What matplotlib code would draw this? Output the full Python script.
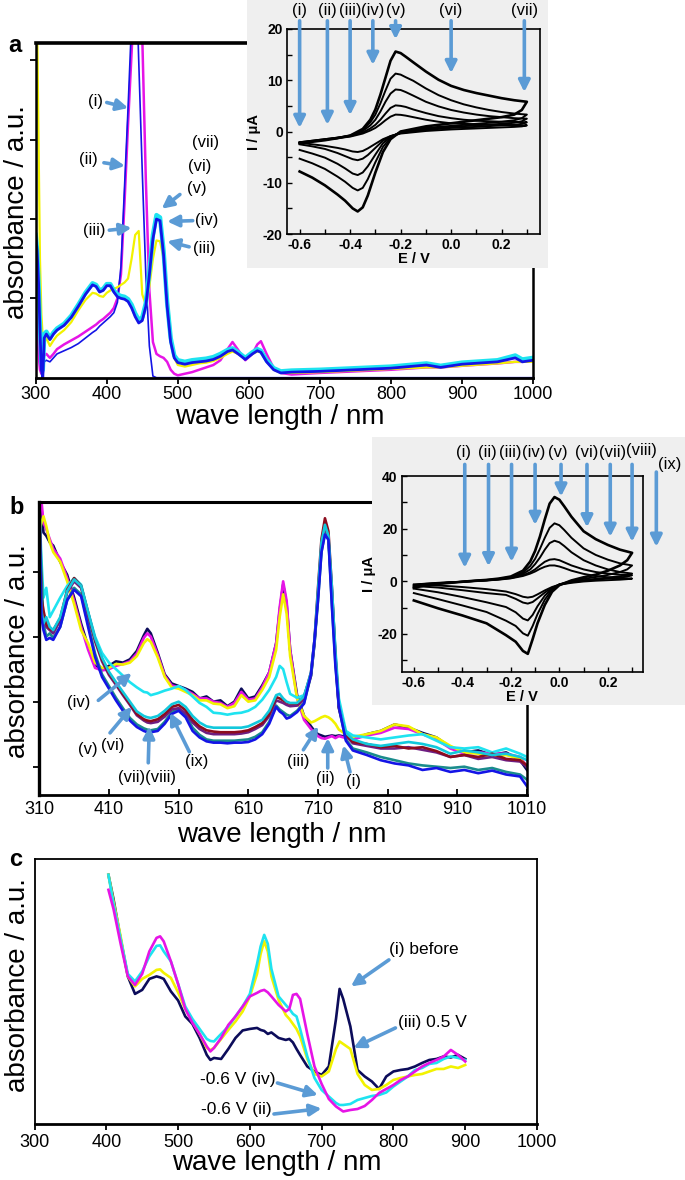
import matplotlib
matplotlib.use('Agg')
import matplotlib.pyplot as plt
from matplotlib.ticker import MultipleLocator

plt.rcParams['font.family'] = ['Liberation Sans', 'DejaVu Sans']
plt.rcParams['axes.unicode_minus'] = False

# ---------------- DATA ----------------
# Panel a spectra
wl_a = [300, 302, 304, 306, 308, 310, 312, 315, 320, 325,
        330, 340, 350, 360, 370, 380, 385, 390, 395, 400,
        405, 410, 415, 420, 425, 430, 435, 440, 445, 450,
        455, 460, 465, 470, 475, 480, 485, 490, 495, 500,
        510, 520, 530, 540, 550, 560, 570, 577, 585, 595,
        605, 612, 617, 625, 635, 645, 660, 700, 750, 800,
        850, 870, 900, 950, 975, 985, 1000]
a_magenta = [1.0, 0.6, 0.3, 0.1, 0.05, 0.2, 0.28, 0.3, 0.25, 0.3,
             0.36, 0.42, 0.47, 0.52, 0.58, 0.64, 0.67, 0.71, 0.74, 0.78,
             0.82, 0.88, 1.0, 1.3, 2.2, 3.2, 4.1, 5.0, 5.5, 4.3,
             2.5, 1.1, 0.45, 0.3, 0.27, 0.25, 0.2, 0.1, 0.05, 0.03,
             0.05, 0.07, 0.1, 0.13, 0.16, 0.22, 0.36, 0.45, 0.35, 0.22,
             0.3, 0.42, 0.46, 0.3, 0.12, 0.06, 0.04, 0.06, 0.08, 0.1,
             0.13, 0.13, 0.15, 0.18, 0.2, 0.2, 0.21]
a_blue_thin = [1.8, 1.5, 1.0, 0.5, 0.1, 0.0, 0.2, 0.22, 0.2, 0.25,
               0.3, 0.34, 0.38, 0.43, 0.5, 0.57, 0.6, 0.65, 0.69, 0.73,
               0.77, 0.82, 0.95, 1.4, 2.4, 3.4, 4.5, 5.5, 4.0, 2.6,
               1.3, 0.4, 0.02, 0.0, 0.0, 0.0, 0.0, 0.0, 0.0, 0.0,
               0.0, 0.0, 0.0, 0.0, 0.0, 0.0, 0.0, 0.0, 0.0, 0.0,
               0.0, 0.0, 0.0, 0.0, 0.0, 0.0, 0.0, 0.0, 0.0, 0.0,
               0.0, 0.0, 0.0, 0.0, 0.0, 0.0, 0.0]
a_yellow = [4.5, 4.5, 3.0, 1.5, 0.8, 0.5, 0.45, 0.5, 0.4, 0.47,
            0.53, 0.6, 0.7, 0.85, 0.98, 1.07, 1.06, 1.03, 1.02, 1.07,
            1.1, 1.12, 1.14, 1.17, 1.2, 1.25, 1.5, 1.8, 1.85, 1.05,
            0.92, 1.15, 1.5, 1.73, 1.72, 1.5, 1.05, 0.55, 0.25, 0.16,
            0.14, 0.16, 0.18, 0.19, 0.21, 0.25, 0.3, 0.33, 0.3, 0.24,
            0.3, 0.33, 0.32, 0.22, 0.1, 0.06, 0.06, 0.07, 0.09, 0.11,
            0.13, 0.13, 0.15, 0.18, 0.2, 0.2, 0.2]
a_cyan = [1.8, 1.6, 1.2, 0.65, 0.2, 0.1, 0.55, 0.58, 0.5, 0.57,
          0.62, 0.68, 0.78, 0.92, 1.07, 1.19, 1.17, 1.1, 1.12, 1.18,
          1.18, 1.1, 1.05, 1.03, 1.02, 0.99, 0.92, 0.81, 0.73, 0.76,
          0.94, 1.34, 1.8, 2.05, 2.02, 1.6, 0.95, 0.5, 0.28, 0.22,
          0.2, 0.22, 0.23, 0.24, 0.26, 0.3, 0.35, 0.37, 0.32, 0.25,
          0.32, 0.36, 0.34, 0.22, 0.12, 0.08, 0.09, 0.1, 0.12, 0.14,
          0.18, 0.15, 0.19, 0.22, 0.28, 0.23, 0.25]
a_blue = [1.8, 1.6, 1.2, 0.6, 0.1, 0.0, 0.5, 0.55, 0.48, 0.55,
          0.6, 0.66, 0.76, 0.9, 1.05, 1.17, 1.15, 1.08, 1.1, 1.16,
          1.16, 1.08, 1.02, 1.0, 0.99, 0.96, 0.88, 0.77, 0.69, 0.72,
          0.9, 1.3, 1.75, 2.0, 1.98, 1.55, 0.9, 0.45, 0.25, 0.19,
          0.17, 0.19, 0.2, 0.21, 0.23, 0.27, 0.33, 0.35, 0.3, 0.23,
          0.3, 0.34, 0.32, 0.2, 0.1, 0.06, 0.07, 0.08, 0.1, 0.12,
          0.16, 0.13, 0.17, 0.2, 0.25, 0.2, 0.22]

# Panel a inset CV
cva_E_fwd = [-0.6, -0.55, -0.5, -0.45, -0.4, -0.35, -0.32, -0.3, -0.28, -0.26, -0.24, -0.22,
             -0.2, -0.18, -0.15, -0.1, -0.05, 0.0, 0.05, 0.1, 0.15, 0.2, 0.25, 0.3]
cva_E_bwd = [0.3, 0.28, 0.25, 0.2, 0.1, 0.0, -0.1, -0.2, -0.24, -0.27,
             -0.3, -0.33, -0.35, -0.37, -0.39, -0.42, -0.45, -0.5, -0.55, -0.6]
cva_fwd = [
    [-2.3, -2.0, -1.7, -1.3, -0.8, 0.5, 2.3, 4.3, 7.2, 10.5, 13.8, 15.6, 15.3, 14.6, 13.5, 11.7, 10.1, 8.9, 8.1, 7.5, 7.0, 6.5, 6.1, 5.8],
    [-2.2, -1.9, -1.6, -1.3, -0.8, 0.3, 1.8, 3.3, 5.5, 8.0, 10.3, 11.3, 11.1, 10.6, 9.9, 8.4, 7.1, 6.1, 5.3, 4.7, 4.2, 3.8, 3.5, 3.3],
    [-2.1, -1.8, -1.5, -1.2, -0.8, 0.1, 1.2, 2.3, 3.9, 5.8, 7.4, 8.2, 8.1, 7.7, 7.0, 5.8, 4.9, 4.2, 3.7, 3.3, 3.0, 2.8, 2.6, 2.5],
    [-2.1, -1.8, -1.5, -1.2, -0.9, -0.2, 0.6, 1.3, 2.3, 3.5, 4.6, 5.1, 5.0, 4.8, 4.3, 3.6, 3.0, 2.6, 2.3, 2.1, 2.0, 1.9, 1.9, 1.8],
    [-2.2, -1.9, -1.6, -1.3, -1.0, -0.4, 0.2, 0.7, 1.4, 2.2, 2.9, 3.3, 3.25, 3.1, 2.8, 2.3, 1.9, 1.6, 1.5, 1.4, 1.3, 1.3, 1.25, 1.2],
]
cva_bwd = [
    [5.8, 4.2, 3.3, 2.8, 2.2, 1.6, 1.0, 0.0, -1.5, -4.0, -8.0, -12.5, -14.8, -15.6, -15.0, -13.5, -12.3, -10.5, -9.0, -7.8],
    [3.3, 2.6, 2.2, 1.9, 1.5, 1.1, 0.7, -0.1, -1.2, -3.0, -6.0, -9.3, -11.0, -11.5, -11.0, -9.8, -8.8, -7.3, -6.2, -5.3],
    [2.5, 2.0, 1.7, 1.5, 1.2, 0.9, 0.5, -0.2, -1.0, -2.3, -4.5, -6.8, -8.0, -8.5, -8.2, -7.2, -6.3, -5.1, -4.3, -3.6],
    [1.8, 1.5, 1.3, 1.2, 0.9, 0.7, 0.3, -0.3, -0.9, -1.8, -3.2, -4.6, -5.3, -5.6, -5.4, -4.8, -4.2, -3.4, -2.9, -2.5],
    [1.2, 1.0, 0.9, 0.8, 0.6, 0.4, 0.1, -0.4, -0.9, -1.5, -2.4, -3.3, -3.8, -4.0, -3.9, -3.5, -3.2, -2.8, -2.5, -2.2],
]
cva_labels = ['(i)', '(ii)', '(iii)', '(iv)', '(v)', '(vi)', '(vii)']
cva_arrow_E = [-0.6, -0.49, -0.40, -0.31, -0.22, 0.0, 0.29]
cva_arrow_tip = [0.7, 1.3, 3.2, 13.0, 18.0, 11.4, 7.7]

# Panel b spectra
wl_b = [310, 313, 316, 320, 325, 330, 340, 350, 360, 370,
        380, 390, 400, 410, 420, 430, 440, 450, 460, 465,
        470, 480, 490, 500, 510, 520, 530, 540, 550, 560,
        570, 580, 590, 600, 610, 620, 630, 640, 650, 655,
        660, 665, 670, 680, 690, 700, 705, 710, 715, 720,
        725, 730, 735, 740, 750, 760, 780, 800, 820, 840,
        860, 880, 900, 920, 940, 960, 980, 1000, 1010]
b_navy = [5.2, 5.0, 4.6, 4.55, 4.45, 4.4, 4.15, 3.95, 3.6, 3.2,
          2.85, 2.55, 2.5, 2.55, 2.62, 2.6, 2.65, 2.78, 3.02, 3.12,
          3.05, 2.75, 2.42, 2.28, 2.24, 2.2, 2.15, 2.05, 2.08, 2.0,
          2.02, 1.93, 2.0, 2.2, 2.05, 2.08, 2.25, 2.45, 2.9, 3.4,
          3.8, 3.5, 2.8, 2.1, 1.78, 1.62, 1.55, 1.5, 1.48, 1.46,
          1.47, 1.48, 1.47, 1.48, 1.46, 1.42, 1.5, 1.55, 1.65, 1.6,
          1.52, 1.45, 1.3, 1.22, 1.25, 1.18, 1.22, 1.1, 0.95]
b_magenta = [5.2, 5.1, 4.75, 4.65, 4.5, 4.35, 4.2, 3.9, 3.55, 3.15,
             2.8, 2.52, 2.48, 2.5, 2.55, 2.58, 2.62, 2.74, 2.98, 3.05,
             3.0, 2.72, 2.4, 2.25, 2.22, 2.18, 2.12, 2.05, 2.05, 2.0,
             1.98, 1.92, 1.98, 2.15, 2.03, 2.05, 2.22, 2.45, 2.9, 3.45,
             3.85, 3.55, 2.8, 2.05, 1.72, 1.58, 1.52, 1.47, 1.44, 1.43,
             1.45, 1.47, 1.44, 1.47, 1.44, 1.42, 1.48, 1.52, 1.6, 1.58,
             1.5, 1.42, 1.28, 1.2, 1.22, 1.2, 1.2, 1.15, 1.0]
b_yellow = [4.6, 4.75, 4.85, 4.7, 4.45, 4.3, 4.15, 3.85, 3.5, 3.1,
            2.9, 2.6, 2.52, 2.52, 2.58, 2.57, 2.6, 2.7, 2.9, 2.96,
            2.92, 2.68, 2.38, 2.22, 2.2, 2.15, 2.1, 2.02, 2.02, 1.97,
            1.96, 1.9, 1.93, 2.1, 2.0, 2.02, 2.18, 2.38, 2.8, 3.3,
            3.65, 3.35, 2.7, 2.05, 1.78, 1.68, 1.7, 1.73, 1.76, 1.78,
            1.76, 1.72, 1.66, 1.57, 1.5, 1.46, 1.5, 1.55, 1.65, 1.62,
            1.5, 1.45, 1.32, 1.22, 1.2, 1.15, 1.18, 1.12, 1.0]
b_lcyan = [5.0, 4.2, 3.6, 3.75, 3.3, 3.4, 3.6, 3.78, 3.9, 3.8,
           3.38, 3.0, 2.75, 2.6, 2.5, 2.4, 2.3, 2.22, 2.15, 2.14,
           2.1, 2.13, 2.17, 2.2, 2.24, 2.18, 2.08, 1.98, 1.92, 1.83,
           1.82, 1.8, 1.82, 1.83, 1.86, 1.92, 2.03, 2.18, 2.38, 2.55,
           2.5, 2.3, 2.12, 2.06, 2.1, 2.4, 2.9, 3.65, 4.35, 4.64,
           4.48, 3.7, 2.8, 2.05, 1.55, 1.48, 1.45, 1.42, 1.45, 1.48,
           1.5, 1.4, 1.3, 1.28, 1.3, 1.22, 1.28, 1.2, 1.15]
b_cyan = [5.0, 3.4, 3.2, 3.3, 3.15, 3.1, 3.3, 3.7, 3.88, 3.78,
          3.38, 2.98, 2.68, 2.46, 2.3, 2.15, 2.0, 1.85, 1.78, 1.76,
          1.75, 1.78, 1.86, 1.96, 2.0, 1.92, 1.78, 1.68, 1.62, 1.6,
          1.6, 1.6, 1.6, 1.6, 1.62, 1.67, 1.72, 1.86, 2.1, 2.12,
          2.05, 2.0, 1.98, 1.98, 2.08, 2.45, 2.95, 3.7, 4.45, 4.72,
          4.55, 3.75, 2.75, 1.95, 1.52, 1.42, 1.35, 1.32, 1.35, 1.38,
          1.35, 1.3, 1.2, 1.25, 1.22, 1.18, 1.2, 1.15, 1.1]
b_purple = [5.0, 3.5, 3.3, 3.15, 3.1, 3.05, 3.25, 3.68, 3.85, 3.75,
            3.33, 2.93, 2.62, 2.41, 2.26, 2.1, 1.95, 1.79, 1.71, 1.68,
            1.67, 1.69, 1.77, 1.88, 1.9, 1.82, 1.68, 1.58, 1.52, 1.5,
            1.5, 1.5, 1.5, 1.51, 1.53, 1.58, 1.64, 1.78, 2.02, 2.0,
            1.98, 1.95, 1.93, 1.94, 2.03, 2.4, 2.9, 3.65, 4.4, 4.7,
            4.52, 3.68, 2.68, 1.9, 1.48, 1.36, 1.32, 1.28, 1.28, 1.3,
            1.26, 1.22, 1.15, 1.18, 1.12, 1.15, 1.1, 1.08, 1.0]
b_darkred = [5.0, 3.6, 3.4, 3.2, 3.12, 3.1, 3.28, 3.72, 3.9, 3.78,
             3.37, 2.96, 2.65, 2.44, 2.28, 2.12, 1.97, 1.81, 1.73, 1.71,
             1.7, 1.73, 1.81, 1.92, 1.95, 1.87, 1.72, 1.62, 1.56, 1.54,
             1.53, 1.53, 1.53, 1.54, 1.56, 1.61, 1.67, 1.81, 2.07, 2.05,
             2.02, 1.99, 1.97, 1.97, 2.07, 2.45, 2.95, 3.75, 4.5, 4.82,
             4.62, 3.75, 2.72, 1.92, 1.5, 1.38, 1.35, 1.3, 1.32, 1.28,
             1.3, 1.24, 1.15, 1.18, 1.15, 1.2, 1.12, 1.1, 1.02]
b_teal = [5.0, 4.0, 3.2, 3.0, 3.05, 2.98, 3.15, 3.56, 3.75, 3.65,
          3.2, 2.74, 2.42, 2.24, 2.06, 1.9, 1.75, 1.65, 1.59, 1.57,
          1.56, 1.58, 1.69, 1.84, 1.89, 1.8, 1.6, 1.49, 1.42, 1.4,
          1.4, 1.4, 1.4, 1.41, 1.42, 1.46, 1.53, 1.69, 1.94, 1.88,
          1.84, 1.8, 1.78, 1.86, 1.98, 2.4, 2.9, 3.55, 4.3, 4.6,
          4.5, 3.5, 2.6, 1.9, 1.42, 1.28, 1.22, 1.15, 1.1, 1.05,
          1.02, 1.0, 0.98, 1.0, 0.95, 0.98, 0.92, 0.88, 0.8]
b_blue = [5.0, 3.3, 3.1, 2.95, 2.98, 2.95, 3.15, 3.56, 3.72, 3.62,
          3.15, 2.69, 2.38, 2.2, 2.02, 1.86, 1.71, 1.61, 1.55, 1.53,
          1.53, 1.55, 1.66, 1.81, 1.86, 1.76, 1.55, 1.45, 1.39, 1.37,
          1.37, 1.36, 1.37, 1.37, 1.38, 1.42, 1.5, 1.66, 1.92, 1.85,
          1.81, 1.74, 1.76, 1.84, 1.97, 2.43, 2.95, 3.56, 4.3, 4.57,
          4.49, 3.46, 2.55, 1.92, 1.4, 1.25, 1.18, 1.1, 1.05, 1.02,
          0.95, 0.98, 0.92, 0.95, 0.9, 0.94, 0.88, 0.85, 0.7]

# Panel b inset CV
cvb_E_fwd = [-0.6, -0.55, -0.5, -0.45, -0.4, -0.35, -0.3, -0.25, -0.2, -0.15, -0.12, -0.1,
             -0.08, -0.06, -0.04, -0.02, 0.0, 0.02, 0.05, 0.1, 0.15, 0.2, 0.25, 0.3]
cvb_E_bwd = [0.3, 0.28, 0.25, 0.2, 0.15, 0.1, 0.05, 0.0, -0.03, -0.06,
             -0.09, -0.11, -0.13, -0.15, -0.18, -0.22, -0.3, -0.4, -0.5, -0.6]
cvb_fwd = [
    [-2.5, -1.5, -1.0, -0.6, -0.2, 0.2, 0.5, 1.0, 1.8, 4.0, 7.5, 11.5, 17.0, 23.5, 29.5, 32.0, 31.0, 28.5, 24.5, 19.0, 16.0, 13.8, 12.0, 10.8],
    [-2.2, -1.3, -0.9, -0.5, -0.2, 0.2, 0.5, 0.9, 1.6, 3.3, 5.8, 8.5, 12.3, 16.5, 20.3, 22.0, 21.3, 19.5, 16.5, 12.5, 10.0, 8.2, 6.8, 6.0],
    [-1.8, -1.1, -0.8, -0.5, -0.2, 0.1, 0.4, 0.8, 1.4, 2.8, 4.5, 6.5, 9.0, 12.0, 14.5, 15.4, 14.8, 13.4, 11.0, 8.0, 6.0, 4.5, 3.5, 2.9],
    [-1.5, -1.0, -0.7, -0.4, -0.2, 0.1, 0.3, 0.7, 1.2, 2.3, 3.4, 4.5, 6.0, 7.4, 8.2, 8.4, 8.0, 7.2, 6.0, 4.5, 3.5, 2.9, 2.5, 2.3],
    [-1.3, -0.9, -0.6, -0.4, -0.2, 0.0, 0.3, 0.6, 1.1, 2.0, 2.9, 3.7, 4.7, 5.5, 6.0, 6.0, 5.6, 5.0, 4.0, 2.8, 2.0, 1.5, 1.2, 1.0],
]
cvb_bwd = [
    [10.8, 8.0, 6.0, 4.0, 2.5, 1.5, 0.3, -1.5, -4.0, -9.0, -16.0, -22.0, -27.6, -26.5, -23.0, -20.5, -16.0, -13.0, -10.3, -7.3],
    [6.0, 4.5, 3.5, 2.4, 1.6, 0.9, 0.1, -1.2, -3.2, -7.0, -12.5, -17.0, -20.7, -19.8, -17.0, -15.0, -11.7, -9.2, -6.8, -4.5],
    [2.9, 2.3, 1.9, 1.4, 0.9, 0.4, -0.2, -1.2, -2.8, -5.5, -9.5, -12.8, -14.9, -14.2, -11.8, -9.8, -8.0, -6.0, -4.2, -2.8],
    [2.3, 1.8, 1.4, 1.0, 0.6, 0.2, -0.4, -1.3, -2.5, -4.3, -6.5, -7.9, -8.5, -8.1, -6.7, -5.2, -4.5, -3.4, -2.4, -1.8],
    [1.0, 0.8, 0.6, 0.4, 0.2, -0.1, -0.6, -1.3, -2.2, -3.5, -5.0, -5.9, -6.2, -5.9, -4.9, -3.9, -3.0, -2.2, -1.6, -1.3],
]
cvb_labels = ['(i)', '(ii)', '(iii)', '(iv)', '(v)', '(vi)', '(vii)', '(viii)', '(ix)']
cvb_label_E = [-0.396, -0.298, -0.203, -0.104, -0.005, 0.114, 0.221, 0.34, 0.456]
cvb_label_I = [48.9, 48.9, 48.9, 48.9, 48.9, 48.9, 48.9, 49.8, 44.4]
cvb_arrow_E = [-0.39, -0.292, -0.197, -0.10, 0.007, 0.114, 0.21, 0.30, 0.40]
cvb_arrow_tail = [44.4, 44.4, 44.4, 44.4, 44.4, 44.4, 44.4, 44.4, 41.5]
cvb_arrow_tip = [5.1, 5.7, 7.4, 21.4, 32.2, 20.5, 16.9, 15.0, 13.1]

# Panel c spectra
wl_c = [403, 410, 420, 430, 440, 450, 460, 470, 475, 480,
        490, 500, 510, 520, 530, 540, 545, 550, 560, 570,
        580, 590, 600, 610, 615, 620, 625, 630, 640, 650,
        655, 660, 665, 670, 680, 690, 700, 710, 720, 725,
        730, 740, 750, 760, 770, 780, 790, 800, 810, 820,
        830, 840, 850, 860, 870, 880, 890, 900]
c_navy = [4.98, 4.5, 3.7, 2.95, 2.6, 2.68, 2.9, 2.95, 2.93, 2.9,
          2.65, 2.47, 2.15, 2.0, 1.72, 1.38, 1.28, 1.32, 1.3, 1.5,
          1.72, 1.87, 1.9, 1.92, 1.88, 1.86, 1.8, 1.83, 1.72, 1.68,
          1.7, 1.63, 1.5, 1.38, 1.15, 1.05, 0.98, 1.15, 2.1, 2.7,
          2.5, 1.95, 1.08, 0.95, 0.85, 0.7, 0.95, 1.05, 1.08, 1.1,
          1.15, 1.22, 1.28, 1.3, 1.35, 1.33, 1.38, 1.3]
c_magenta = [4.68, 4.3, 3.6, 2.95, 2.78, 3.0, 3.45, 3.72, 3.75, 3.65,
             3.25, 2.8, 2.3, 2.02, 1.8, 1.55, 1.45, 1.52, 1.72, 1.98,
             2.15, 2.35, 2.55, 2.62, 2.66, 2.68, 2.63, 2.55, 2.38, 2.25,
             2.3, 2.58, 2.6, 2.5, 1.8, 1.15, 0.8, 0.5, 0.35, 0.3,
             0.25, 0.28, 0.3, 0.36, 0.48, 0.62, 0.7, 0.78, 0.88, 0.95,
             1.05, 1.15, 1.22, 1.28, 1.35, 1.48, 1.38, 1.25]
c_cyan = [4.98, 4.4, 3.7, 3.0, 2.85, 3.05, 3.35, 3.56, 3.57, 3.45,
          3.25, 2.8, 2.35, 2.1, 1.9, 1.7, 1.66, 1.65, 1.8, 1.95,
          2.15, 2.35, 2.6, 3.2, 3.55, 3.78, 3.6, 3.1, 2.55, 2.38,
          2.3, 2.2, 2.15, 1.9, 1.35, 0.92, 0.68, 0.55, 0.42, 0.38,
          0.38, 0.4, 0.48, 0.52, 0.56, 0.58, 0.63, 0.75, 0.85, 0.95,
          1.08, 1.12, 1.2, 1.22, 1.3, 1.35, 1.32, 1.28]
c_yellow = [4.98, 4.45, 3.75, 2.95, 2.75, 2.9, 2.98, 3.08, 3.09, 3.02,
            2.92, 2.63, 2.3, 2.05, 1.8, 1.52, 1.48, 1.52, 1.7, 1.88,
            2.05, 2.25, 2.55, 3.0, 3.4, 3.65, 3.45, 2.95, 2.48, 2.18,
            2.1, 2.0, 1.9, 1.75, 1.3, 1.0, 0.95, 1.05, 1.5, 1.65,
            1.6, 1.5, 1.0, 0.78, 0.68, 0.7, 0.78, 0.88, 0.92, 0.95,
            0.98, 1.0, 1.05, 1.1, 1.1, 1.15, 1.12, 1.18]

xticks_a = [300, 400, 500, 600, 700, 800, 900, 1000]
xticks_b = [310, 410, 510, 610, 710, 810, 910, 1010]
xticks_c = [300, 400, 500, 600, 700, 800, 900, 1000]

# ---------------- STYLE ----------------
W, H = 685, 1180
ARROW = '#5b9bd5'
GREY = '#efefef'
YEL = '#f2f200'
MAG = '#e614e6'
CYN = '#1ee3f0'
BLU = '#1414e6'
NAVY = '#0c0c5a'
DRED = '#8c0c1e'
PURP = '#6e1e82'
TEAL = '#1a8c8c'
CYN2 = '#12c8dc'

fig = plt.figure(figsize=(W / 100, H / 100), dpi=100)
fig.patch.set_facecolor('white')


def frac(l, t, r, b):
    return [l / W, 1 - b / H, (r - l) / W, (b - t) / H]


def arrow(ax, tail, tip, lw=2.6, ms=17):
    ax.annotate('', xy=tip, xytext=tail, xycoords='data', textcoords='data',
                arrowprops=dict(arrowstyle='-|>', color=ARROW, lw=lw, mutation_scale=ms,
                                shrinkA=0, shrinkB=0),
                annotation_clip=False)


def style_main(ax, lw_top=2.2, xdir='out'):
    ax.spines['top'].set_linewidth(lw_top)
    ax.spines['bottom'].set_linewidth(2.0)
    ax.spines['left'].set_linewidth(1.8)
    ax.spines['right'].set_linewidth(1.8)
    ax.tick_params(axis='y', direction='out', length=4, width=1.3)
    ax.tick_params(axis='x', direction=xdir, length=4, width=1.3, labelsize=13,
                   pad=2 if xdir == 'out' else 4)


def style_inset(ax):
    for s in ax.spines.values():
        s.set_linewidth(1.2)
    ax.set_facecolor(GREY)
    ax.tick_params(axis='both', which='both', direction='in', length=3.5, width=1.0, pad=3,
                   top=False, right=False)


def bg_box(l, t, r, b):
    bg = fig.add_axes(frac(l, t, r, b))
    bg.set_facecolor(GREY)
    bg.set_xticks([])
    bg.set_yticks([])
    for s in bg.spines.values():
        s.set_visible(False)
    bg.set_zorder(2)
    return bg


def draw_cv(ax, Ef, Eb, fwd, bwd):
    for k, (f, b) in enumerate(zip(fwd, bwd)):
        ax.plot(Ef + Eb, f + b, color='black', lw=1.9 if k == 0 else 1.4, zorder=3)


XL = 20

# ---------------- PANEL A ----------------
ax_a = fig.add_axes(frac(35.7, 43, 533, 377.7))
ax_a.set_zorder(1)
ax_a.plot(wl_a, a_magenta, color=MAG, lw=1.8)
ax_a.plot(wl_a, a_blue_thin, color=BLU, lw=1.2)
ax_a.plot(wl_a, a_yellow, color=YEL, lw=1.6)
ax_a.plot(wl_a, a_cyan, color=CYN, lw=3.2)
ax_a.plot(wl_a, a_blue, color=BLU, lw=2.0)
ax_a.set_xlim(300, 1000)
ax_a.set_ylim(0, 4.22)
ax_a.set_xticks(xticks_a)
ax_a.set_yticks([1, 2, 3, 4])
ax_a.set_yticklabels([])
style_main(ax_a, lw_top=2.6)

txt_kw = dict(fontsize=12, ha='center', va='center')
ax_a.text(383.5, 3.48, '(i)', **txt_kw)
arrow(ax_a, (400, 3.47), (430.3, 3.40))
ax_a.text(374, 2.75, '(ii)', **txt_kw)
arrow(ax_a, (396, 2.71), (425.7, 2.67))
ax_a.text(382, 1.86, '(iii)', **txt_kw)
arrow(ax_a, (403.6, 1.86), (435, 1.89))
ax_a.text(539.7, 2.96, '(vii)', **txt_kw)
ax_a.text(531, 2.66, '(vi)', **txt_kw)
ax_a.text(526.6, 2.39, '(v)', **txt_kw)
arrow(ax_a, (503, 2.31), (477.4, 2.13))
ax_a.text(540.7, 1.98, '(iv)', **txt_kw)
arrow(ax_a, (521, 1.98), (485, 1.97))
ax_a.text(537, 1.63, '(iii)', **txt_kw)
arrow(ax_a, (516, 1.65), (485, 1.72))

fig.text(15 / W, 1 - 45 / H, 'a', fontsize=17, fontweight='bold', ha='center', va='center')
fig.text(17 / W, 1 - 212 / H, 'absorbance / a.u.', fontsize=XL, rotation=90, ha='center', va='center')
fig.text(280 / W, 1 - 417 / H, 'wave length / nm', fontsize=XL, ha='center', va='center')

# inset a
bg_box(247, 0, 548, 268)
ia = fig.add_axes(frac(287, 29, 540, 234))
ia.set_zorder(3)
style_inset(ia)
draw_cv(ia, cva_E_fwd, cva_E_bwd, cva_fwd, cva_bwd)
ia.set_xlim(-0.65, 0.352)
ia.set_ylim(-20, 20)
ia.set_xticks([-0.6, -0.4, -0.2, 0.0, 0.2], labels=['-0.6', '-0.4', '-0.2', '0.0', '0.2'],
              fontsize=10, fontweight='bold')
ia.set_yticks([-20, -10, 0, 10, 20], labels=['-20', '-10', '0', '10', '20'],
              fontsize=10, fontweight='bold')
ia.xaxis.set_minor_locator(MultipleLocator(0.1))
ia.yaxis.set_minor_locator(MultipleLocator(5))
ia.set_xlabel('E / V', fontsize=10.5, fontweight='bold', labelpad=0)
ia.set_ylabel('I / μA', fontsize=10.5, fontweight='bold', labelpad=1)
for lab, e, tip in zip(cva_labels, cva_arrow_E, cva_arrow_tip):
    ia.text(e, 23.7, lab, fontsize=12, ha='center', va='center', clip_on=False)
    arrow(ia, (e, 21.6), (e, tip))

# ---------------- PANEL B ----------------
ax_b = fig.add_axes(frac(39.3, 502, 527, 795))
ax_b.set_zorder(1)
for ys, col in [(b_navy, NAVY), (b_magenta, MAG), (b_yellow, YEL), (b_lcyan, CYN),
                (b_teal, TEAL), (b_purple, PURP), (b_darkred, DRED), (b_cyan, CYN2), (b_blue, BLU)]:
    ax_b.plot(wl_b, ys, color=col, lw=1.9)
ax_b.set_xlim(310, 1010)
ax_b.set_ylim(0.565, 5.07)
ax_b.set_xticks(xticks_b)
ax_b.set_yticks([1, 2, 3, 4])
ax_b.set_yticklabels([])
style_main(ax_b, lw_top=2.2, xdir='in')
ax_b.spines['left'].set_linewidth(2.4)

ax_b.text(366, 1.98, '(iv)', **txt_kw)
arrow(ax_b, (394.7, 2.02), (442.6, 2.44))
ax_b.text(380, 1.26, '(v)', **txt_kw)
ax_b.text(415.8, 1.33, '(vi)', **txt_kw)
arrow(ax_b, (411.5, 1.52), (442.6, 1.92))
ax_b.text(464, 0.83, '(vii)(viii)', **txt_kw)
arrow(ax_b, (466.4, 1.06), (467.9, 1.62))
ax_b.text(536, 1.08, '(ix)', **txt_kw)
arrow(ax_b, (525.3, 1.23), (497.6, 1.83))
ax_b.text(681.8, 1.08, '(iii)', **txt_kw)
arrow(ax_b, (689, 1.26), (710.5, 1.62))
ax_b.text(720, 0.82, '(ii)', **txt_kw)
arrow(ax_b, (724, 0.98), (724, 1.44))
ax_b.text(760.7, 0.77, '(i)', **txt_kw)
arrow(ax_b, (756, 0.92), (746.4, 1.33))

fig.text(16.7 / W, 1 - 508 / H, 'b', fontsize=17, fontweight='bold', ha='center', va='center')
fig.text(18 / W, 1 - 651 / H, 'absorbance / a.u.', fontsize=XL, rotation=90, ha='center', va='center')
fig.text(282 / W, 1 - 835 / H, 'wave length / nm', fontsize=XL, ha='center', va='center')

# inset b
bg_box(372, 437, 685, 705)
ib = fig.add_axes(frac(401.7, 476, 643, 672))
ib.set_zorder(3)
style_inset(ib)
draw_cv(ib, cvb_E_fwd, cvb_E_bwd, cvb_fwd, cvb_bwd)
ib.set_xlim(-0.65, 0.345)
ib.set_ylim(-34.5, 40)
ib.set_xticks([-0.6, -0.4, -0.2, 0.0, 0.2], labels=['-0.6', '-0.4', '-0.2', '0.0', '0.2'],
              fontsize=10, fontweight='bold')
ib.set_yticks([-20, 0, 20, 40], labels=['-20', '0', '20', '40'],
              fontsize=10, fontweight='bold')
ib.xaxis.set_minor_locator(MultipleLocator(0.1))
ib.yaxis.set_minor_locator(MultipleLocator(10))
ib.set_xlabel('E / V', fontsize=10.5, fontweight='bold', labelpad=0)
ib.set_ylabel('I / μA', fontsize=10.5, fontweight='bold', labelpad=1)
for lab, le, li in zip(cvb_labels, cvb_label_E, cvb_label_I):
    ib.text(le, li, lab, fontsize=12, ha='center', va='center', clip_on=False)
for e, t0, tip in zip(cvb_arrow_E, cvb_arrow_tail, cvb_arrow_tip):
    arrow(ib, (e, t0), (e, tip))

# ---------------- PANEL C ----------------
ax_c = fig.add_axes(frac(34.5, 859.3, 537, 1124))
for ys, col in [(c_navy, NAVY), (c_yellow, YEL), (c_cyan, CYN), (c_magenta, MAG)]:
    ax_c.plot(wl_c, ys, color=col, lw=1.9)
ax_c.set_xlim(300, 1000)
ax_c.set_ylim(0, 5.29)
ax_c.set_xticks(xticks_c)
ax_c.set_yticks([])
for s in ax_c.spines.values():
    s.set_linewidth(1.3)
ax_c.spines['bottom'].set_linewidth(2.0)
ax_c.tick_params(axis='x', direction='out', length=4, width=1.3, labelsize=13, pad=3)

ax_c.text(793.7, 3.48, '(i) before', fontsize=12.5, ha='left', va='center')
arrow(ax_c, (793.7, 3.28), (740.8, 2.75))
ax_c.text(806, 2.03, '(iii) 0.5 V', fontsize=12.5, ha='left', va='center')
arrow(ax_c, (802.8, 1.92), (744.3, 1.52))
ax_c.text(636.4, 0.88, '-0.6 V (iv)', fontsize=12.5, ha='right', va='center')
arrow(ax_c, (638.4, 0.82), (694.8, 0.58))
ax_c.text(630.8, 0.28, '-0.6 V (ii)', fontsize=12.5, ha='right', va='center')
arrow(ax_c, (633.6, 0.2), (700, 0.31))

fig.text(15.5 / W, 1 - 859 / H, 'c', fontsize=17, fontweight='bold', ha='center', va='center')
fig.text(17.7 / W, 1 - 985 / H, 'absorbance / a.u.', fontsize=XL, rotation=90, ha='center', va='center')
fig.text(277 / W, 1 - 1163 / H, 'wave length / nm', fontsize=XL, ha='center', va='center')

fig.savefig('out.png', dpi=100)
